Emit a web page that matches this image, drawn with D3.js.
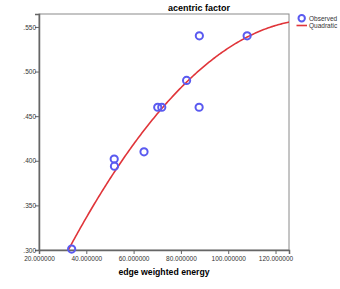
<!DOCTYPE html>
<html>
<head>
<meta charset="utf-8">
<script src="https://cdn.jsdelivr.net/npm/d3@7"></script>
<style>
  body { margin: 0; background: #fff; }
  text { font-family: "Liberation Sans", Arial, sans-serif; }
</style>
</head>
<body>
<div id="chart"></div>
<script>
// observed points
var energy = [33.8, 51.8, 51.9, 64.4, 70.2, 71.9, 82.4, 87.8, 87.7, 108.0];
var acentric = [0.301, 0.402, 0.394, 0.410, 0.460, 0.460, 0.490, 0.540, 0.460, 0.540];
var xTicks = [20, 40, 60, 80, 100, 120];
var yTicks = [0.30, 0.35, 0.40, 0.45, 0.50, 0.55];

var width = 340,
    height = 289;
// plot box (note: "top" is reserved on window, so use pTop etc)
var pLeft = 39, pRight = 289, pTop = 14, pBottom = 250;

var svg = d3.select("#chart")
    .append("svg")
    .attr("width", width)
    .attr("height", height);

var x = d3.scaleLinear().domain([20, 125.7]).range([pLeft, pRight]);
var y = d3.scaleLinear().domain([0.3, 0.5645]).range([pBottom, pTop]);

// quadratic least squares fit, y = a + b x + c x^2
function quadFit(xs, ys) {
    var n = xs.length, s = [0, 0, 0, 0, 0], t = [0, 0, 0];
    for (var i = 0; i < n; i++) {
        var p = 1;
        for (var k = 0; k < 5; k++) { s[k] += p; if (k < 3) t[k] += p * ys[i]; p *= xs[i]; }
    }
    var m = [[s[0], s[1], s[2], t[0]], [s[1], s[2], s[3], t[1]], [s[2], s[3], s[4], t[2]]];
    for (var c = 0; c < 3; c++) {
        for (var r = c + 1; r < 3; r++) {
            var f = m[r][c] / m[c][c];
            for (var j = c; j < 4; j++) m[r][j] -= f * m[c][j];
        }
    }
    var co = [0, 0, 0];
    for (var r2 = 2; r2 >= 0; r2--) {
        var v = m[r2][3];
        for (var j2 = r2 + 1; j2 < 3; j2++) v -= m[r2][j2] * co[j2];
        co[r2] = v / m[r2][r2];
    }
    return co;
}
var co = quadFit(energy, acentric);

svg.append("clipPath").attr("id", "plotclip")
    .append("rect")
    .attr("x", pLeft).attr("y", pTop)
    .attr("width", pRight - pLeft).attr("height", pBottom - pTop);

// frame
svg.append("rect")
    .attr("x", pLeft).attr("y", pTop)
    .attr("width", pRight - pLeft).attr("height", pBottom - pTop)
    .attr("fill", "none")
    .attr("stroke", "#8a8a8a")
    .attr("stroke-width", 1);

// axes
var xAxis = svg.append("g")
    .attr("transform", "translate(0," + pBottom + ")")
    .call(d3.axisBottom(x).tickValues(xTicks).tickSize(4).tickFormat(d3.format(".6f")));
var yAxis = svg.append("g")
    .attr("transform", "translate(" + pLeft + ",0)")
    .call(d3.axisLeft(y).tickValues(yTicks).tickSize(4).tickFormat(function (d) {
        return d3.format(".3f")(d).replace(/^0/, "");
    }));
[xAxis, yAxis].forEach(function (a) {
    a.select(".domain").attr("stroke", "#666").attr("stroke-width", 1.5);
    a.selectAll(".tick line").attr("stroke", "#666");
    a.selectAll(".tick text")
        .attr("fill", "#333")
        .style("font-size", "6.5px")
        .style("font-family", "Liberation Sans, Arial, sans-serif");
});
xAxis.selectAll(".tick text").attr("y", 6).attr("dy", "0.71em");
yAxis.selectAll(".tick text").attr("x", -3).attr("dx", 0);

// fit line
var curve = d3.range(x.domain()[0], x.domain()[1] + 0.5, 0.5).map(function (v) {
    return [v, co[0] + co[1] * v + co[2] * v * v];
});
svg.append("path")
    .datum(curve)
    .attr("clip-path", "url(#plotclip)")
    .attr("fill", "none")
    .attr("stroke", "#e0353a")
    .attr("stroke-width", 1.6)
    .attr("d", d3.line()
        .x(function (d) { return x(d[0]); })
        .y(function (d) { return y(d[1]); }));

// observed points
svg.append("g")
    .selectAll("circle")
    .data(energy)
    .enter()
    .append("circle")
    .attr("cx", function (d) { return x(d); })
    .attr("cy", function (d, i) { return y(acentric[i]); })
    .attr("r", 3.6)
    .attr("fill", "none")
    .attr("stroke", "#5a5af0")
    .attr("stroke-width", 2);

// titles
svg.append("text")
    .attr("x", 199).attr("y", 11)
    .attr("text-anchor", "middle")
    .style("font-size", "9px")
    .style("font-weight", "bold")
    .text("acentric factor");
svg.append("text")
    .attr("x", 164).attr("y", 275)
    .attr("text-anchor", "middle")
    .style("font-size", "8.7px")
    .style("font-weight", "bold")
    .text("edge weighted energy");

// legend
var legend = svg.append("g");
legend.append("circle")
    .attr("cx", 301.7).attr("cy", 18.3).attr("r", 3.2)
    .attr("fill", "none").attr("stroke", "#5a5af0").attr("stroke-width", 2);
legend.append("line")
    .attr("x1", 296.5).attr("x2", 307).attr("y1", 25.5).attr("y2", 25.5)
    .attr("stroke", "#e0353a").attr("stroke-width", 1.6);
legend.append("text")
    .attr("x", 309).attr("y", 21)
    .style("font-size", "6.5px").attr("fill", "#333")
    .text("Observed");
legend.append("text")
    .attr("x", 309).attr("y", 28)
    .style("font-size", "6.5px").attr("fill", "#333")
    .text("Quadratic");
</script>
</body>
</html>
